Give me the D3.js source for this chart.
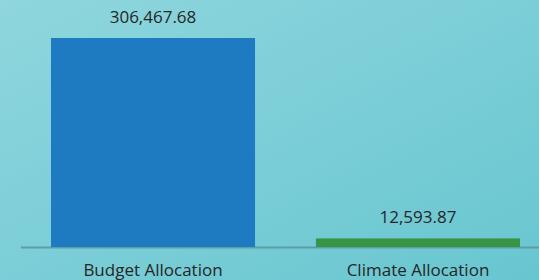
<!DOCTYPE html>
<html>
<head>
<meta charset="utf-8">
<script src="https://cdn.jsdelivr.net/npm/d3@7"></script>
<style>
  html, body { margin: 0; padding: 0; }
  svg { display: block; }
</style>
</head>
<body>
<div id="chart"></div>
<script>
var categories = ["Budget Allocation", "Climate Allocation"];
var values = [306467.68, 12593.87];
var barColors = ["#1f7bc1", "#389545"];

var width = 539, height = 280;
var baseY = 247, topY = 38;

var svg = d3.select("#chart").append("svg")
  .attr("width", width)
  .attr("height", height);

// background gradient
var defs = svg.append("defs");
var grad = defs.append("linearGradient")
  .attr("id", "bg")
  .attr("x1", "0%").attr("y1", "0%")
  .attr("x2", "100%").attr("y2", "100%");
grad.append("stop").attr("offset", "0%").attr("stop-color", "#8fd6de");
grad.append("stop").attr("offset", "100%").attr("stop-color", "#68c6d0");

svg.append("rect")
  .attr("width", width).attr("height", height)
  .attr("fill", "url(#bg)");

var x = d3.scaleBand()
  .domain(categories)
  .range([51, 520])
  .paddingInner(0.23)
  .paddingOuter(0);

var y = d3.scaleLinear()
  .domain([0, d3.max(values)])
  .range([baseY, topY]);

var data = categories.map(function(c, i) {
  return {name: c, value: values[i], color: barColors[i]};
});

// baseline
svg.append("line")
  .attr("x1", 21).attr("x2", width)
  .attr("y1", baseY + 0.5).attr("y2", baseY + 0.5)
  .attr("stroke", "#5f9ca5")
  .attr("stroke-width", 2);

svg.selectAll("rect.bar")
  .data(data)
  .enter()
  .append("rect")
  .attr("class", "bar")
  .attr("x", function(d) { return x(d.name); })
  .attr("y", function(d) { return y(d.value); })
  .attr("width", x.bandwidth())
  .attr("height", function(d) { return baseY - y(d.value); })
  .attr("fill", function(d) { return d.color; });

var fmt = d3.format(",.2f");

svg.selectAll("text.val")
  .data(data)
  .enter()
  .append("text")
  .attr("class", "val")
  .attr("x", function(d) { return x(d.name) + x.bandwidth() / 2; })
  .attr("y", function(d) { return y(d.value) - 15; })
  .attr("text-anchor", "middle")
  .style("font-family", "'Open Sans', sans-serif")
  .style("font-size", "17px")
  .attr("fill", "#262626")
  .text(function(d) { return fmt(d.value); });

svg.selectAll("text.cat")
  .data(data)
  .enter()
  .append("text")
  .attr("class", "cat")
  .attr("x", function(d) { return x(d.name) + x.bandwidth() / 2; })
  .attr("y", 276)
  .attr("text-anchor", "middle")
  .style("font-family", "'Open Sans', sans-serif")
  .style("font-size", "17px")
  .attr("fill", "#262626")
  .text(function(d) { return d.name; });
</script>
</body>
</html>
